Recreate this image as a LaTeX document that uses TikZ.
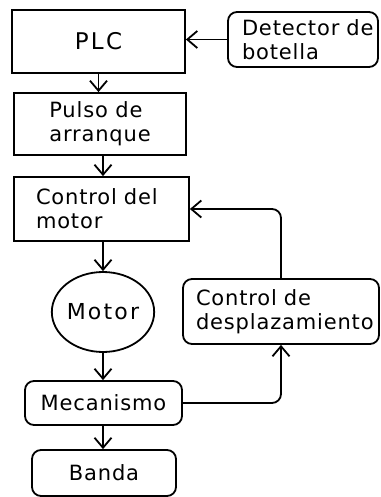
\documentclass[tikz,border=0pt]{standalone}
\usepackage{fontspec}
\setmainfont{DejaVu Sans}[LetterSpace=4]
\newfontfamily\widefont{DejaVu Sans}[LetterSpace=10]
\usetikzlibrary{arrows.meta,shapes.geometric}
\tikzset{
  box/.style={draw, line width=1.8pt, inner sep=0pt, font=\fontsize{21}{24}\selectfont, align=left},
  rbox/.style={box, rounded corners=9pt},
  arr/.style={line width=1.8pt, -{Straight Barb[length=10pt,width=17pt,line width=1.8pt]}},
}
\begin{document}
\begin{tikzpicture}[x=1pt,y=-1pt]
\useasboundingbox (0,0) rectangle (380,497);
\node[box, font=\widefont\fontsize{23}{24}\selectfont, minimum width=173pt, minimum height=63pt] (plc) at (98.5,41.5) {PLC};
\node[rbox, minimum width=150pt, minimum height=55pt, inner xsep=14pt, text width=122pt] (det) at (303,39.5) {\mbox{Detector de}\\botella};
\node[box, minimum width=172pt, minimum height=62pt] (pulso) at (100,124) {Pulso de\\arranque};
\node[box, minimum width=175pt, minimum height=64pt, inner xsep=22pt, text width=131pt] (ctrl) at (101.5,209) {Control del\\motor};
\node[box, ellipse, font=\widefont\fontsize{22}{24}\selectfont, minimum width=97pt, minimum height=80pt] (motor) at (103,312) {Motor};
\node[rbox, minimum width=196pt, minimum height=65pt, inner xsep=13pt, text width=170pt] (desp) at (281,311.5) {Control de\\desplazamiento};
\node[rbox, minimum width=157pt, minimum height=44pt] (mec) at (103.5,403) {Mecanismo};
\node[rbox, minimum width=144pt, minimum height=46pt] (banda) at (104,473) {Banda};
\draw[arr] (det.west) -- (plc.east |- det.west);
\draw[arr] (plc.south) -- (pulso.north -| plc.south);
\draw[arr] (pulso.south -| motor.north) -- (ctrl.north -| motor.north);
\draw[arr] (ctrl.south -| motor.north) -- (motor.north);
\draw[arr] (motor.south) -- (mec.north -| motor.south);
\draw[arr] (mec.south -| motor.south) -- (banda.north -| motor.south);
\draw[arr, rounded corners=9pt] (mec.east) -| (desp.south);
\draw[arr, rounded corners=9pt] (desp.north) |- (ctrl.east);
\end{tikzpicture}
\end{document}
